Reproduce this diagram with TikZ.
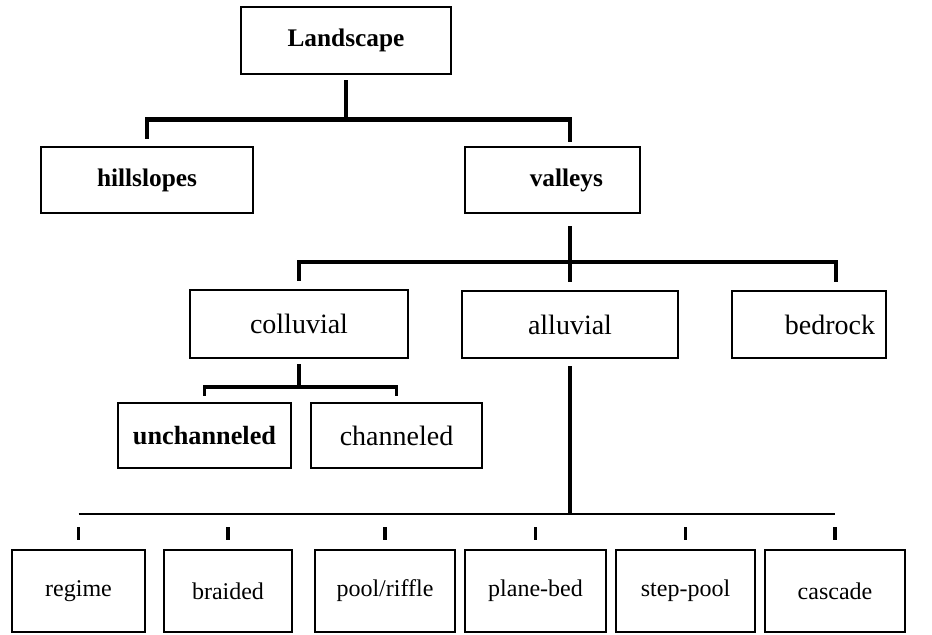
\documentclass[tikz,border=0pt]{standalone}
\usepackage{fontspec}
\setmainfont{Liberation Serif}
\usetikzlibrary{positioning}

\begin{document}
\begin{tikzpicture}[
  x=0.75pt, y=-0.75pt,
  box/.style={draw, line width=1.7pt, inner sep=0pt, align=center},
  head/.style={box, font=\fontsize{19}{21}\selectfont\bfseries},
  mid/.style={box, font=\fontsize{21}{24}\selectfont},
  low/.style={box, font=\fontsize{18}{20}\selectfont, minimum height=82*\pu},
  trunk/.style={line width=3.6pt},
  branch/.style={line width=3.2pt},
  twig/.style={line width=2.7pt},
  stem/.style={line width=2.8pt},
  rule/.style={line width=1.4pt},
  drop/.style={line width=2.7pt},
]
\def\pu{0.75pt} % 1 px of the 932x635 frame

\useasboundingbox (0,0) rectangle (932,635);

% ---- Level 0/1 -----------------------------------------------------------
\node[head, minimum width=210*\pu, minimum height=67*\pu] (land) at (346,40.5) {Landscape};
\node[head, minimum width=212*\pu, minimum height=66*\pu] (hill) at (147,180) {hillslopes};
\node[head, minimum height=66*\pu, text width=101*\pu, inner xsep=37*\pu, align=right] (vall) at (552.5,180) {valleys};

% ---- Level 2 -------------------------------------------------------------
\node[mid, minimum width=218*\pu, minimum height=68*\pu] (coll) at (299,324) {colluvial};
\node[mid, minimum width=216*\pu, minimum height=67*\pu] (allu) at (570,324.5) {alluvial};
\node[mid, minimum height=67*\pu, text width=132*\pu, inner xsep=11*\pu, align=right] (bed) at (809,324.5) {bedrock};

% ---- Level 3 (colluvial) -------------------------------------------------
\node[mid, font=\fontsize{19.7}{22}\selectfont\bfseries, minimum width=173*\pu, minimum height=65*\pu] (unch) at (204.5,435.5) {unchanneled};
\node[mid, minimum width=171*\pu, minimum height=65*\pu] (chan) at (396.5,435.5) {channeled};

% ---- Level 3 (alluvial channel types) ------------------------------------
\node[low, minimum width=133*\pu] (rg) at (78.5,591)  {regime};
\node[low, minimum width=128*\pu] (br) at (228,591)   {braided};
\node[low, minimum width=140*\pu] (pr) at (385,591)   {pool/riffle};
\node[low, minimum width=141*\pu] (pb) at (535.5,591) {plane-bed};
\node[low, minimum width=139*\pu] (sp) at (685.5,591) {step-pool};
\node[low, minimum width=140*\pu] (cs) at (835,591)   {cascade};

% ---- Connectors ----------------------------------------------------------
\coordinate (vtop) at ([xshift=17.5*\pu]vall.north);
\coordinate (vbot) at ([xshift=17.5*\pu]vall.south);
\coordinate (bdrop) at ([xshift=27*\pu]bed.north);

% Landscape -> hillslopes / valleys
\coordinate (tb) at ([yshift=-44*\pu]land.south);
\draw[trunk] ([yshift=-5*\pu]land.south) -- (tb);
\draw[trunk] ([yshift=7*\pu]hill.north) -- (hill.north |- tb) -- (vtop |- tb) -- ([yshift=4*\pu]vtop);

% valleys -> colluvial / alluvial / bedrock
\coordinate (mb) at ([yshift=-48*\pu]vbot);
\draw[branch] ([yshift=-12*\pu]vbot) -- ([yshift=8*\pu]allu.north);
\draw[branch] ([yshift=8*\pu]coll.north) -- (coll.north |- mb) -- (bdrop |- mb) -- ([yshift=8*\pu]bdrop);

% colluvial -> unchanneled / channeled
\coordinate (sb) at ([yshift=-28*\pu]coll.south);
\draw[twig] ([yshift=-5*\pu]coll.south) -- (sb);
\draw[twig] ([yshift=6*\pu]unch.north) -- (unch.north |- sb) -- (chan.north |- sb) -- ([yshift=6*\pu]chan.north);

% alluvial -> channel types
\coordinate (lb) at ([yshift=35*\pu]rg.north);
\draw[stem] ([yshift=-7*\pu]allu.south) -- (allu.south |- lb);
\draw[rule] (lb) -- (cs.north |- lb);
\foreach \b in {rg,br,pr,pb,sp,cs}
  \draw[drop] ([yshift=9*\pu]\b.north) -- ([yshift=22*\pu]\b.north);

\end{tikzpicture}
\end{document}
